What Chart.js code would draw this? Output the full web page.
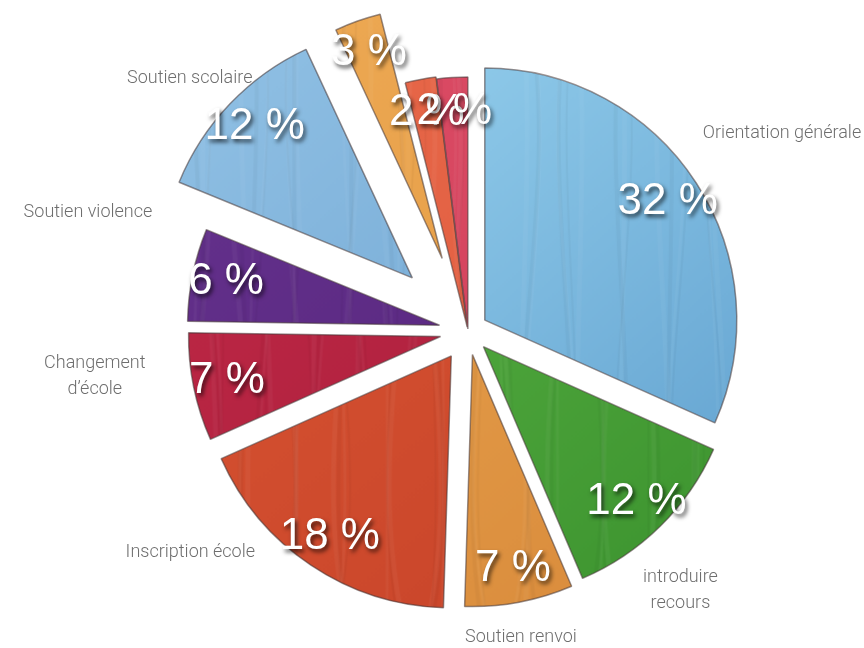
<!DOCTYPE html>
<html lang="fr">
<head>
<meta charset="utf-8">
<title>Répartition des demandes</title>
<script src="https://cdn.jsdelivr.net/npm/chart.js@4.4.1/dist/chart.umd.min.js"></script>
<style>
  html, body { margin: 0; padding: 0; background: #fff; }
  #wrap { width: 864px; height: 648px; }
</style>
</head>
<body>
<div id="wrap"><canvas id="camembert" width="864" height="648"></canvas></div>
<script>
let categories = ['Orientation générale', 'introduire\nrecours', 'Soutien renvoi', 'Inscription école', 'Changement\nd’école', 'Soutien violence', 'Soutien scolaire', '', '', '']
let valeurs = [32, 12, 7, 18, 7, 6, 12, 3, 2, 2]
let etiquettes = valeurs.map(v => v + ' %')

// couleur claire / couleur foncée de chaque part
let couleurs = [
  ['#9ad4f0', '#5f9fce'],
  ['#5cb446', '#3b922e'],
  ['#eaa650', '#d8893a'],
  ['#da5633', '#c64229'],
  ['#c22a48', '#a51c39'],
  ['#66328e', '#53247a'],
  ['#93c3e6', '#6ba1cf'],
  ['#eeaa55', '#e39a42'],
  ['#e8694a', '#de583c'],
  ['#dc4d66', '#cf3d58'],
]
// écartement de chaque part (px)
let ecarts = [20, 22, 24, 30, 28, 29, 77, 77, 4, 2]
// noms autour du camembert : distance au centre et décalage d'angle (degrés)
let distNoms = [371, 335, 311, 355, 376, 398, 376, 0, 0, 0]
let decalNoms = [0.8, 5.2, 0.9, 17.6, 4.6, 5.7, -1.4, 0, 0, 0]

// petite texture brossée pour chaque part
function texture(clair, fonce, n) {
  let c = document.createElement('canvas')
  c.width = 864
  c.height = 648
  let g = c.getContext('2d')
  let lin = g.createLinearGradient(250, 40, 720, 600)
  lin.addColorStop(0, clair)
  lin.addColorStop(1, fonce)
  g.fillStyle = lin
  g.fillRect(0, 0, 864, 648)
  for (let i = 0; i < 70; i++) {
    let x = (i * 97 + n * 31) % 920 - 30
    let a = Math.sin(i * 1.7 + n) * 50
    g.beginPath()
    g.moveTo(x, 0)
    g.bezierCurveTo(x + a, 220, x - a, 440, x + a * 0.5, 648)
    g.lineWidth = 2 + (i % 4)
    g.strokeStyle = i % 2 ? 'rgba(255,255,255,0.04)' : 'rgba(0,0,0,0.03)'
    g.stroke()
  }
  return g.createPattern(c, 'repeat')
}
let fonds = couleurs.map((c, i) => texture(c[0], c[1], i))

const eclate = {
  id: 'eclate',
  beforeDatasetDraw(chart, args) {
    const ctx = chart.ctx
    args.meta.data.forEach((arc, i) => {
      const mid = (arc.startAngle + arc.endAngle) / 2
      ctx.save()
      ctx.translate(Math.cos(mid) * ecarts[i], Math.sin(mid) * ecarts[i])
      arc.draw(ctx)
      ctx.restore()
    })
    return false
  },
  afterDraw(chart) {
    const ctx = chart.ctx
    const arcs = chart.getDatasetMeta(0).data
    ctx.save()
    // noms des catégories
    ctx.font = '300 18px Roboto, "Liberation Sans", sans-serif'
    ctx.fillStyle = '#6e6e6e'
    ctx.textAlign = 'center'
    ctx.textBaseline = 'middle'
    arcs.forEach((arc, i) => {
      if (!categories[i]) return
      const a = (arc.startAngle + arc.endAngle) / 2 + decalNoms[i] * Math.PI / 180
      const x = arc.x + Math.cos(a) * distNoms[i]
      const y = arc.y + Math.sin(a) * distNoms[i]
      const lignes = categories[i].split('\n')
      lignes.forEach((l, k) => {
        ctx.fillText(l, x, y + (k - (lignes.length - 1) / 2) * 26)
      })
    })
    // pourcentages
    ctx.font = '44px "Liberation Sans", Arial, sans-serif'
    ctx.fillStyle = '#ffffff'
    ctx.shadowColor = 'rgba(0,0,0,0.7)'
    ctx.shadowOffsetX = 2
    ctx.shadowOffsetY = 3
    ctx.shadowBlur = 4
    arcs.forEach((arc, i) => {
      const a = (arc.startAngle + arc.endAngle) / 2
      const d = ecarts[i] + arc.outerRadius * 0.865
      ctx.fillText(etiquettes[i], arc.x + Math.cos(a) * d, arc.y + Math.sin(a) * d)
    })
    ctx.restore()
  }
}

let graphique = new Chart(document.getElementById('camembert').getContext('2d'), {
  type: 'pie',
  data: {
    labels: categories,
    datasets: [
      {
        data: valeurs,
        backgroundColor: fonds,
        borderColor: 'rgba(70,55,55,0.55)',
        borderWidth: 1.5,
      },
    ],
  },
  options: {
    responsive: false,
    animation: false,
    radius: 252,
    layout: {
      padding: { left: 72, right: 0, top: 14, bottom: 0 },
    },
    plugins: {
      legend: { display: false },
      tooltip: { enabled: false },
    },
  },
  plugins: [eclate],
})
</script>
</body>
</html>
